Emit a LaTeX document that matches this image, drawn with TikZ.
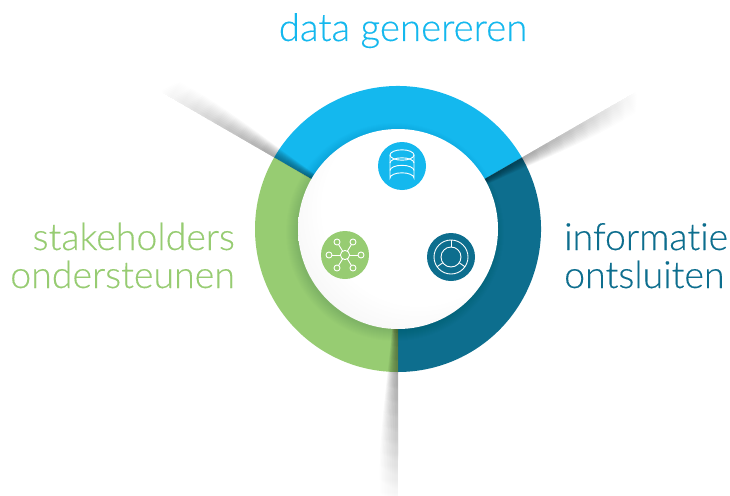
\documentclass[tikz,border=0pt]{standalone}
\usepackage{fontspec}
\setmainfont{Lato}[UprightFont=* Light, Ligatures=NoCommon, FakeBold=0.3]
\usetikzlibrary{fadings}
\definecolor{cblue}{HTML}{14B8EE}
\definecolor{cteal}{HTML}{0D6E8E}
\definecolor{cgreen}{HTML}{97CC72}
\pgfdeclareradialshading{discshade}{\pgfpoint{10bp}{10bp}}{color(0bp)=(white);color(24bp)=(white);color(50bp)=(black!11)}
\tikzfading[name=rayfade, left color=transparent!95, right color=transparent!100]
\tikzset{
  lbl/.style={font=\fontsize{37.5}{37.5}\selectfont, inner sep=0pt, anchor=base},
  ico/.style={draw=white, line width=0.9pt, fill=none},
  dot/.style={circle, minimum size=48pt, inner sep=0pt},
}
\newcommand{\shadowray}[1]{%
  \begin{scope}[transform canvas={shift={(398pt,-229pt)},rotate=#1}]
    \foreach \k in {1,...,10} {
      \pgfmathsetmacro{\s}{(\k/10)^0.7}
      \pgfmathsetmacro{\e}{282-\k*1.2}
      \fill[black, path fading=rayfade, fit fading=true]
        (100pt,0pt) -- (\e pt,0pt) -- (\e pt,-18*\s pt)
        .. controls (215pt,-21*\s pt) and (150pt,-10*\s pt) .. (100pt,-6*\s pt) -- cycle;
    }
  \end{scope}}
\begin{document}
\begin{tikzpicture}[x=1pt,y=-1pt]
\useasboundingbox (0,0) rectangle (730,495);
\fill[white] (0,0) rectangle (730,495);
% ring
\fill[cblue] (398,229) -- ++(-30:143) arc[start angle=-30, end angle=-150, radius=143] -- cycle;
\fill[cteal] (398,229) -- ++(-30:143) arc[start angle=-30, end angle=90, radius=143] -- cycle;
\fill[cgreen] (398,229) -- ++(90:143) arc[start angle=90, end angle=210, radius=143] -- cycle;
% ray shadows
\shadowray{150}
\shadowray{30}
\shadowray{270}
% soft shadow of the disc on the ring
\foreach \r in {1,2,...,12} {
  \fill[black, opacity=0.008] (395,232) circle[radius=97+\r];
}
% disc
\shade[shading=discshade] (398,229) circle[radius=100];
% icon dots
\node[dot, fill=cblue] (db) at (402,166) {};
\node[dot, fill=cgreen] (net) at (345,255) {};
\node[dot, fill=cteal] (donut) at (451,257) {};
% database icon
\draw[ico] (402,155) ellipse[x radius=12, y radius=5.2];
\draw[ico] (390,155) -- (390,178) arc[start angle=180, end angle=360, x radius=12, y radius=5.2] -- (414,155);
\draw[ico] (390,163) arc[start angle=180, end angle=360, x radius=12, y radius=5.2];
\draw[ico] (390,170.5) arc[start angle=180, end angle=360, x radius=12, y radius=5.2];
% network icon
\draw[ico] (345,255) circle[radius=4.6];
\foreach \x/\y in {337/242, 353/242, 361/255, 353/268, 337/268, 329/255} {
  \draw[ico] (\x,\y) circle[radius=3];
  \path (345,255) coordinate (h) (\x,\y) coordinate (s);
  \draw[ico, shorten <=4.6pt, shorten >=3pt] (h) -- (s);
}
% donut icon
\draw[ico] (451,257) circle[radius=17];
\draw[ico] (451,257) circle[radius=10];
\foreach \a in {-90, 35, 145} {
  \draw[ico] (451,257) ++(\a:10) -- ++(\a:7);
}
% labels
\node[lbl, text=cblue, font=\fontsize{38.4}{38.4}\selectfont] (t1) at (403,41) {data genereren};
\node[lbl, text=cgreen, anchor=base east] (t2) at (235,250) {stakeholders};
\node[lbl, text=cgreen, anchor=base east] (t3) at (235,288) {ondersteunen};
\node[lbl, text=cteal, anchor=base west] (t4) at (564,250) {informatie};
\node[lbl, text=cteal, anchor=base west] (t5) at (564,288) {ontsluiten};
\end{tikzpicture}
\end{document}
